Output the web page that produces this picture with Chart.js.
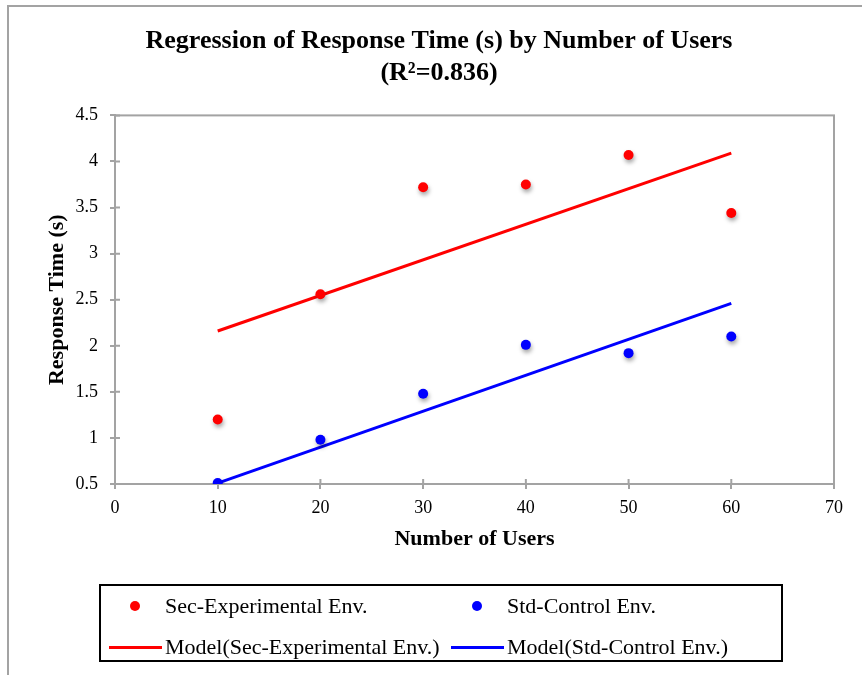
<!DOCTYPE html>
<html>
<head>
<meta charset="utf-8">
<script src="https://cdn.jsdelivr.net/npm/chart.js@4.4.1/dist/chart.umd.min.js"></script>
<style>
  html, body { margin: 0; padding: 0; background: #fff; }
  #wrap { position: relative; width: 862px; height: 675px; overflow: hidden; }
  #frame { position: absolute; left: 7px; top: 5px; right: -10px; bottom: -10px;
           border-top: 2px solid #a3a3a3; border-left: 2px solid #a3a3a3; }
  #myChart { position: absolute; left: 0; top: 0; }
  #legend { position: absolute; left: 99px; top: 584px; width: 680px; height: 74px;
            border: 2px solid #000; font-family: "Liberation Serif", serif; font-size: 22px; color: #000; }
  .item { position: absolute; white-space: nowrap; line-height: 24px; }
  .dot { position: absolute; width: 10px; height: 10px; border-radius: 50%; }
  .bar { position: absolute; height: 3px; }
</style>
</head>
<body>
<div id="wrap">
  <div id="frame"></div>
  <canvas id="myChart" width="862" height="675"></canvas>
  <div id="legend"></div>
</div>
<script>
const users = [10, 20, 30, 40, 50, 60];
const secExp = [1.2, 2.56, 3.72, 3.75, 4.07, 3.44];
const stdCtrl = [0.51, 0.98, 1.48, 2.01, 1.92, 2.1];

// fitted model lines, ends of the range only
const modelX = [10, 60];
const secModel = [2.16, 4.09];
const stdModel = [0.51, 2.46];

const xTicks = [0, 10, 20, 30, 40, 50, 60, 70];
const yTicks = [0.5, 1, 1.5, 2, 2.5, 3, 3.5, 4, 4.5];

const seriesNames = ["Sec-Experimental Env.", "Std-Control Env."];
const seriesColors = ["#ff0000", "#0000ff"];

const toPoints = (xs, ys) => xs.map((x, i) => ({ x: x, y: ys[i] }));

const axisGray = "#a3a3a3";

// box around the plot + the inner half of each tick mark
const plotFrame = {
  id: "plotFrame",
  beforeDatasetsDraw(chart) {
    const { ctx, chartArea: a, scales } = chart;
    ctx.save();
    ctx.strokeStyle = axisGray;
    ctx.lineWidth = 2;
    ctx.strokeRect(a.left, a.top, a.right - a.left, a.bottom - a.top);
    ctx.beginPath();
    scales.x.ticks.forEach((t) => {
      const px = scales.x.getPixelForValue(t.value);
      ctx.moveTo(px, a.bottom);
      ctx.lineTo(px, a.bottom - 5);
    });
    scales.y.ticks.forEach((t) => {
      const py = scales.y.getPixelForValue(t.value);
      ctx.moveTo(a.left, py);
      ctx.lineTo(a.left + 5, py);
    });
    ctx.stroke();
    ctx.restore();
  },
};

// soft drop shadow under the scatter dots
const dotShadow = {
  id: "dotShadow",
  beforeDatasetDraw(chart, args) {
    if (chart.data.datasets[args.index].showLine) return;
    const ctx = chart.ctx;
    ctx.save();
    ctx.shadowColor = "rgba(0,0,0,0.35)";
    ctx.shadowBlur = 4;
    ctx.shadowOffsetX = 1;
    ctx.shadowOffsetY = 3;
  },
  afterDatasetDraw(chart, args) {
    if (chart.data.datasets[args.index].showLine) return;
    chart.ctx.restore();
  },
};

const ctx = document.getElementById("myChart");

new Chart(ctx, {
  type: "scatter",
  data: {
    datasets: [
      {
        label: seriesNames[0],
        data: toPoints(users, secExp),
        backgroundColor: seriesColors[0],
        borderColor: seriesColors[0],
        pointRadius: 5,
        pointBorderWidth: 0,
      },
      {
        label: seriesNames[1],
        data: toPoints(users, stdCtrl),
        backgroundColor: seriesColors[1],
        borderColor: seriesColors[1],
        pointRadius: 5,
        pointBorderWidth: 0,
      },
      {
        label: "Model(" + seriesNames[0] + ")",
        data: toPoints(modelX, secModel),
        showLine: true,
        borderColor: seriesColors[0],
        borderWidth: 3,
        pointRadius: 0,
      },
      {
        label: "Model(" + seriesNames[1] + ")",
        data: toPoints(modelX, stdModel),
        showLine: true,
        borderColor: seriesColors[1],
        borderWidth: 3,
        pointRadius: 0,
      },
    ],
  },
  options: {
    responsive: false,
    animation: false,
    layout: { padding: { top: 0, left: 44, right: 28, bottom: 111 } },
    scales: {
      x: {
        type: "linear",
        min: 0,
        max: 70,
        afterBuildTicks: (scale) => { scale.ticks = xTicks.map((v) => ({ value: v })); },
        afterFit: (scale) => { scale.height = 80; },
        border: { color: axisGray, width: 2 },
        grid: { drawOnChartArea: false, color: axisGray, lineWidth: 2, tickLength: 5 },
        ticks: {
          color: "#000",
          padding: 8,
          font: { family: "Liberation Serif", size: 18 },
        },
        title: {
          display: true,
          text: "Number of Users",
          color: "#000",
          padding: { top: 0, bottom: 11 },
          font: { family: "Liberation Serif", size: 22, weight: "bold" },
        },
      },
      y: {
        min: 0.5,
        max: 4.5,
        afterBuildTicks: (scale) => { scale.ticks = yTicks.map((v) => ({ value: v })); },
        afterFit: (scale) => { scale.width = 71; },
        border: { color: axisGray, width: 2 },
        grid: { drawOnChartArea: false, color: axisGray, lineWidth: 2, tickLength: 5 },
        ticks: {
          color: "#000",
          padding: 12,
          font: { family: "Liberation Serif", size: 18 },
          callback: (v) => String(v),
        },
        title: {
          display: true,
          text: "Response Time (s)",
          color: "#000",
          padding: { top: 0, bottom: 0 },
          font: { family: "Liberation Serif", size: 22, weight: "bold" },
        },
      },
    },
    plugins: {
      legend: { display: false },
      tooltip: { enabled: false },
      title: {
        display: true,
        text: ["Regression of Response Time (s) by Number of Users", "(R\u00b2=0.836)"],
        color: "#000",
        padding: { top: 26, bottom: 27 },
        font: { family: "Liberation Serif", size: 26, weight: "bold", lineHeight: 1.2 },
      },
    },
  },
  plugins: [plotFrame, dotShadow],
});

// two-by-two legend box under the chart
const legendItems = [
  { text: seriesNames[0], color: seriesColors[0], kind: "dot", x: 34, y: 20 },
  { text: seriesNames[1], color: seriesColors[1], kind: "dot", x: 376, y: 20 },
  { text: "Model(" + seriesNames[0] + ")", color: seriesColors[0], kind: "bar", x: 8, y: 61 },
  { text: "Model(" + seriesNames[1] + ")", color: seriesColors[1], kind: "bar", x: 350, y: 61 },
];
const legendBox = document.getElementById("legend");
legendItems.forEach((it) => {
  const mark = document.createElement("span");
  if (it.kind === "dot") {
    mark.className = "dot";
    mark.style.left = it.x - 5 + "px";
    mark.style.top = it.y - 5 + "px";
  } else {
    mark.className = "bar";
    mark.style.left = it.x + "px";
    mark.style.width = "53px";
    mark.style.top = it.y - 1 + "px";
  }
  mark.style.background = it.color;
  legendBox.appendChild(mark);
  const label = document.createElement("span");
  label.className = "item";
  label.textContent = it.text;
  label.style.left = (it.kind === "dot" ? it.x + 30 : it.x + 56) + "px";
  label.style.top = it.y - 12 + "px";
  legendBox.appendChild(label);
});
</script>
</body>
</html>
